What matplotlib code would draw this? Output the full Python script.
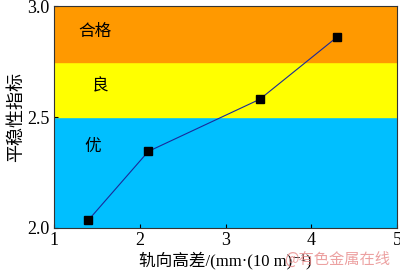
import matplotlib.pyplot as plt

# data
x_vals = [1.4, 2.1, 3.4, 4.3]
y_vals = [2.035, 2.345, 2.58, 2.86]
band_edges = [2.0, 2.5, 2.75, 3.0]
band_colors = ['#00BFFF', '#FFFF00', '#FF9900']
band_labels = ['优', '良', '合格']
x_ticks = [1, 2, 3, 4, 5]
y_ticks = [2.0, 2.5, 3.0]

cjk = ['Noto Sans CJK SC', 'DejaVu Sans']
mixed = ['Liberation Serif', 'Noto Sans CJK SC', 'DejaVu Serif']
num_font = 'Liberation Serif'

fig = plt.figure(figsize=(4, 2.75), dpi=100)
ax = fig.add_axes([0.135, 0.171, 0.8575, 0.807])

# colored bands
for i in range(3):
    ax.axhspan(band_edges[i], band_edges[i + 1], color=band_colors[i], zorder=0)

label_pos = [(1.45, 2.365), (1.54, 2.64), (1.48, 2.887)]
for (lx, ly), lab in zip(label_pos, band_labels):
    ax.text(lx, ly, lab, family=cjk, fontsize=12, ha='center', va='center')

ax.plot(x_vals, y_vals, color='#1a2a9a', linewidth=0.8, marker='s',
        markersize=6, markerfacecolor='black', markeredgecolor='black', zorder=3)

ax.set_xlim(1, 5)
ax.set_ylim(2.0, 3.0)
ax.set_xticks(x_ticks)
ax.set_yticks(y_ticks)
ax.set_xticklabels([str(t) for t in x_ticks], family=num_font, fontsize=13)
ax.set_yticklabels(['%.1f' % t for t in y_ticks], family=num_font, fontsize=13)
ax.tick_params(direction='in', length=3, width=0.8, pad=3)

for s in ax.spines.values():
    s.set_linewidth(0.8)
    s.set_color('#333333')

ax.set_xlabel('轨向高差/(mm·(10 m)⁻¹)', family=mixed, fontsize=12, labelpad=2)
ax.set_ylabel('平稳性指标', family=cjk, fontsize=13, labelpad=2)

# watermark
fig.text(0.975, 0.025, '@有色金属在线', family=cjk, fontsize=11,
         color='#e88a8a', ha='right', va='bottom', alpha=0.8)

fig.savefig('out.png', dpi=100)
